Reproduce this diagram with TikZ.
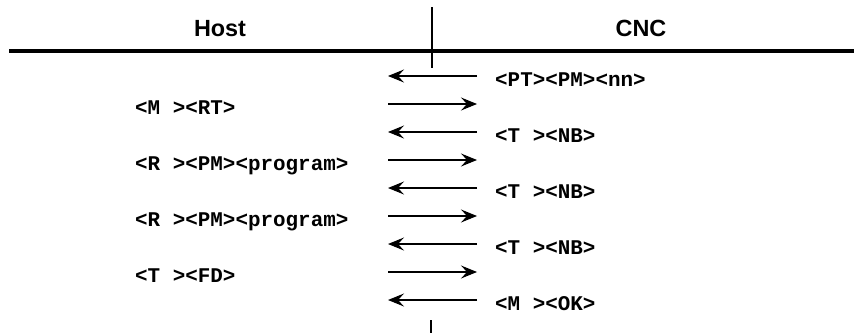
\documentclass[tikz,border=0pt]{standalone}
\usepackage{fontspec}
\setmainfont{Liberation Sans}
\setmonofont{Liberation Mono}
\usetikzlibrary{arrows.meta}
\tikzset{
  msg/.style={-{Stealth[length=16pt,width=13pt,inset=6pt]},line width=1.1pt},
  head/.style={font=\bfseries\fontsize{23.4}{28}\selectfont,anchor=base,inner sep=0pt},
  code/.style={font=\ttfamily\bfseries\fontsize{20.9}{24}\selectfont,anchor=base west,inner sep=0pt},
}
\begin{document}
\begin{tikzpicture}[x=1pt,y=-1pt]
				\useasboundingbox (0,0) rectangle (854,333);
				\draw[line width=4pt] (9,51)--(854,51);
				\draw[line width=2pt] (432,7)--(432,68);
				\draw[line width=2pt] (431,320)--(431,333);
				\node[head] (host) at (220,36) {Host};
				\node[head] (cnc) at (641,36) {CNC};
				\foreach \n in {1,...,9} {
					\coordinate (A\n) at (388,48+28*\n);
					\coordinate (B\n) at (477,48+28*\n);
				}
				\foreach \n in {1,3,5,7,9} \draw[msg] (B\n)--(A\n);
				\foreach \n in {2,4,6,8} \draw[msg] (A\n)--(B\n);
				\node[code] (c1) at (495,86) {<PT><PM><nn>};
				\node[code] (h2) at (135,114) {<M ><RT>};
				\node[code] (c3) at (495,142) {<T ><NB>};
				\node[code] (h4) at (135,170) {<R ><PM><program>};
				\node[code] (c5) at (495,198) {<T ><NB>};
				\node[code] (h6) at (135,226) {<R ><PM><program>};
				\node[code] (c7) at (495,254) {<T ><NB>};
				\node[code] (h8) at (135,282) {<T ><FD>};
				\node[code] (c9) at (495,310) {<M ><OK>};
			\end{tikzpicture}
\end{document}
